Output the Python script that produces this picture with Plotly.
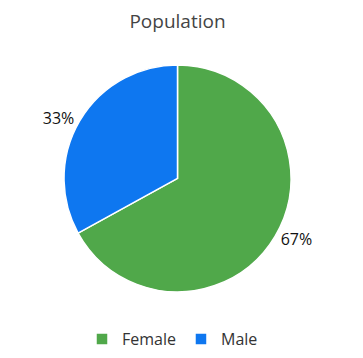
import plotly.graph_objects as go

labels = ["Female", "Male"]
values = [67, 33]
colors = ["#50A84A", "#0E77F0"]

fig = go.Figure(go.Pie(
    labels=labels,
    values=values,
    marker=dict(colors=colors, line=dict(color="white", width=1.5)),
    sort=False,
    direction="clockwise",
    rotation=0,
    textinfo="percent",
    textposition="outside",
    texttemplate="%{percent:.0%}",
    textfont=dict(size=16, color="#111"),
    hoverinfo="label+percent",
    domain=dict(x=[0, 1], y=[0.207, 0.841]),
))

fig.update_layout(
    width=339, height=358,
    margin=dict(l=0, r=0, t=0, b=0),
    paper_bgcolor="white",
    font=dict(family="Open Sans, Noto Sans, sans-serif", color="#333"),
    title=dict(text="Population", x=0.5, xanchor="center", y=0.963, yanchor="middle",
               font=dict(size=19, color="#444")),
    legend=dict(orientation="h", x=0.481, xanchor="center", y=0.075, yanchor="middle",
                itemwidth=30, font=dict(size=16, color="#333")),
)

fig.write_html("out.html")
